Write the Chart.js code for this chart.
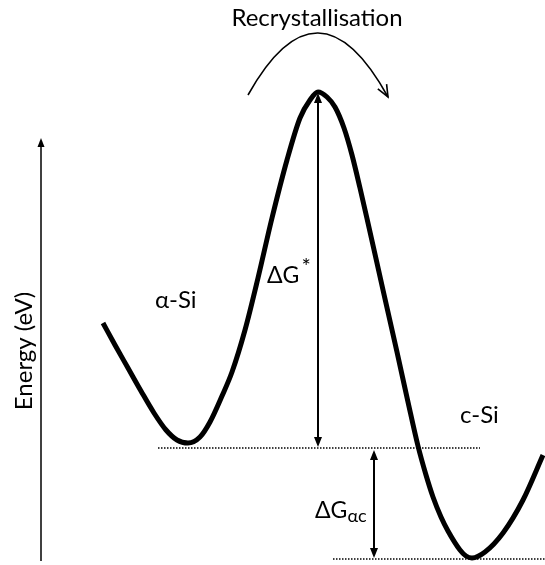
<!DOCTYPE html>
<html>
<head>
<meta charset="utf-8">
<script src="https://cdn.jsdelivr.net/npm/chart.js@4.4.1/dist/chart.umd.min.js"></script>
<style>
  html, body { margin: 0; padding: 0; background: #ffffff; }
  #wrap { width: 545px; height: 565px; }
</style>
</head>
<body>
<div id="wrap"><canvas id="c" width="545" height="565"></canvas></div>
<script>
// ---- Data (reaction coordinate x, energy in arbitrary units) ----
const coordX = [103,115,128,141,154,166,177,188,200,210,222,232,245,258,272,287,300,310,318,327,335,344,352,360,368,383,397,408,418,426,433,441,448,460,466,472,485,503,523,543];
const energy = [242,220,197,174,152,135,125,122,128,143,169,193,235,287,347,405,447,465,473,468,458,437,410,377,342,275,213,163,119,90,68,48,34,15,9,7,13,32,65,110];

// Energy levels (dotted reference lines)
const levelASi = 117;     // amorphous Si minimum level
const levelCSi = 6;       // crystalline Si minimum level
const levelPeak = 472;    // barrier top
const levelASiX = [158, 480];
const levelCSiX = [333, 545];

// Texts
const titleText = "Recrystallisation";
const axisTitle = "Energy (eV)";
const labelASi = "α-Si";
const labelCSi = "c-Si";
const labelBarrier = "ΔG";
const labelBarrierSup = "*";
const labelDiff = "ΔG";
const labelDiffSub = "αc";

const curveData = coordX.map((x, i) => ({ x: x, y: energy[i] }));

const FONT = "Lato, 'Open Sans', sans-serif";

function arrowHead(ctx, tipX, tipY, fromX, fromY, len, width, filled) {
  const ang = Math.atan2(tipY - fromY, tipX - fromX);
  const bx = tipX - len * Math.cos(ang);
  const by = tipY - len * Math.sin(ang);
  const px = -Math.sin(ang) * width / 2;
  const py = Math.cos(ang) * width / 2;
  ctx.beginPath();
  if (filled) {
    ctx.moveTo(tipX, tipY);
    ctx.lineTo(bx + px, by + py);
    ctx.lineTo(bx - px, by - py);
    ctx.closePath();
    ctx.fill();
  } else {
    ctx.moveTo(bx + px, by + py);
    ctx.lineTo(tipX, tipY);
    ctx.lineTo(bx - px, by - py);
    ctx.stroke();
  }
}

const annotations = {
  id: 'annotations',
  afterDatasetsDraw(chart) {
    const ctx = chart.ctx;
    const xs = chart.scales.x, ys = chart.scales.y;
    const X = v => xs.getPixelForValue(v);
    const Y = v => ys.getPixelForValue(v);
    ctx.save();
    ctx.strokeStyle = '#000';
    ctx.fillStyle = '#000';
    ctx.lineCap = 'butt';

    // Energy axis arrow
    ctx.lineWidth = 1.5;
    const axX = X(41);
    ctx.beginPath();
    ctx.moveTo(axX, Y(4));
    ctx.lineTo(axX, Y(427) + 8);
    ctx.stroke();
    arrowHead(ctx, axX, Y(427), axX, Y(4), 9, 7, true);

    // ΔG* double arrow
    ctx.lineWidth = 2;
    const bX = X(318);
    ctx.beginPath();
    ctx.moveTo(bX, Y(levelPeak) + 8);
    ctx.lineTo(bX, Y(levelASi + 1) - 8);
    ctx.stroke();
    arrowHead(ctx, bX, Y(levelPeak), bX, Y(levelASi), 10, 8, true);
    arrowHead(ctx, bX, Y(levelASi + 1), bX, Y(levelPeak), 10, 8, true);

    // ΔGαc double arrow
    const dX = X(374);
    ctx.beginPath();
    ctx.moveTo(dX, Y(levelASi - 2) + 8);
    ctx.lineTo(dX, Y(levelCSi + 1) - 8);
    ctx.stroke();
    arrowHead(ctx, dX, Y(levelASi - 2), dX, Y(levelCSi), 10, 8, true);
    arrowHead(ctx, dX, Y(levelCSi + 1), dX, Y(levelASi), 10, 8, true);

    // Curved "recrystallisation" arrow
    ctx.lineWidth = 1.6;
    const sx = X(248), sy = Y(470), cx = X(318), cy = Y(595), ex = X(388), ey = Y(468);
    ctx.beginPath();
    ctx.moveTo(sx, sy);
    ctx.quadraticCurveTo(cx, cy, ex, ey);
    ctx.stroke();
    arrowHead(ctx, ex, ey, cx, cy, 12, 10, false);

    // Texts
    ctx.textBaseline = 'alphabetic';
    ctx.textAlign = 'center';
    ctx.font = "24px " + FONT;
    ctx.fillText(titleText, X(317), Y(565 - 26));

    ctx.textAlign = 'left';
    ctx.font = "24px " + FONT;
    ctx.fillText(labelASi, X(155), Y(565 - 308));
    ctx.fillText(labelCSi, X(460), Y(565 - 423));
    ctx.font = "23px " + FONT;
    ctx.fillText(labelBarrier, X(267), Y(565 - 283));
    const w1 = ctx.measureText(labelBarrier).width;
    ctx.fillText(labelDiff, X(315), Y(565 - 518));
    const w2 = ctx.measureText(labelDiff).width;
    ctx.font = "22px " + FONT;
    ctx.fillText(labelBarrierSup, X(267) + w1 + 2, Y(565 - 274));
    ctx.font = "18px " + FONT;
    ctx.fillText(labelDiffSub, X(315) + w2, Y(565 - 522));

    // Axis title
    ctx.save();
    ctx.translate(X(32), Y(565 - 351));
    ctx.rotate(-Math.PI / 2);
    ctx.textAlign = 'center';
    ctx.font = "24px " + FONT;
    ctx.fillText(axisTitle, 0, 0);
    ctx.restore();

    ctx.restore();
  }
};

new Chart(document.getElementById('c'), {
  type: 'scatter',
  data: {
    datasets: [
      {
        label: 'a-Si level',
        data: levelASiX.map(x => ({ x: x, y: levelASi })),
        showLine: true, borderColor: '#000', borderWidth: 1.5,
        borderDash: [1.5, 1.5], pointRadius: 0, clip: false
      },
      {
        label: 'c-Si level',
        data: levelCSiX.map(x => ({ x: x, y: levelCSi })),
        showLine: true, borderColor: '#000', borderWidth: 1.5,
        borderDash: [1.5, 1.5], pointRadius: 0, clip: false
      },
      {
        label: 'Energy',
        data: curveData,
        showLine: true, borderColor: '#000', borderWidth: 5,
        cubicInterpolationMode: 'monotone', pointRadius: 0, clip: false,
        borderCapStyle: 'butt', borderJoinStyle: 'round'
      }
    ]
  },
  options: {
    responsive: false,
    animation: false,
    devicePixelRatio: 1,
    layout: { padding: 0 },
    plugins: { legend: { display: false }, tooltip: { enabled: false } },
    scales: {
      x: { type: 'linear', min: 0, max: 545, display: false },
      y: { type: 'linear', min: 0, max: 565, display: false }
    }
  },
  plugins: [annotations]
});
</script>
</body>
</html>
